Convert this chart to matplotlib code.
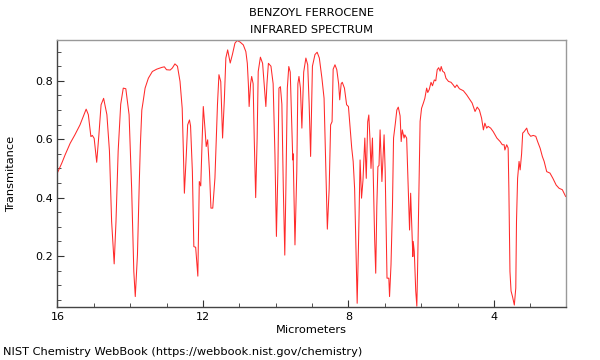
import matplotlib
matplotlib.use("Agg")
import matplotlib.pyplot as plt
from matplotlib.ticker import MultipleLocator

# wavelength (micrometers) and transmittance
wavelength = [
    16.00, 15.88, 15.79, 15.65, 15.52, 15.38, 15.29, 15.21, 15.15, 15.08,
    15.04, 14.99, 14.92, 14.86, 14.80, 14.73, 14.64, 14.57, 14.51, 14.44,
    14.39, 14.33, 14.26, 14.19, 14.12, 14.03, 13.96, 13.90, 13.86, 13.80,
    13.75, 13.72, 13.68, 13.65, 13.59, 13.50, 13.39, 13.27, 13.13, 13.06,
    13.00, 12.90, 12.84, 12.77, 12.70, 12.63, 12.57, 12.54, 12.51, 12.46,
    12.42, 12.37, 12.34, 12.29, 12.25, 12.20, 12.14, 12.10, 12.06, 12.02,
    11.99, 11.94, 11.91, 11.87, 11.82, 11.78, 11.73, 11.67, 11.60, 11.56,
    11.51, 11.46, 11.41, 11.37, 11.32, 11.25, 11.19, 11.12, 11.06, 10.98,
    10.89, 10.82, 10.78, 10.75, 10.73, 10.69, 10.66, 10.62, 10.59, 10.55,
    10.51, 10.48, 10.42, 10.36, 10.31, 10.27, 10.24, 10.20, 10.13, 10.07,
    10.02, 9.98, 9.94, 9.91, 9.87, 9.83, 9.79, 9.75, 9.72, 9.68,
    9.64, 9.60, 9.56, 9.53, 9.52, 9.47, 9.42, 9.39, 9.36, 9.32,
    9.28, 9.23, 9.17, 9.12, 9.08, 9.04, 8.99, 8.92, 8.86, 8.80,
    8.73, 8.67, 8.63, 8.58, 8.53, 8.49, 8.45, 8.42, 8.37, 8.32,
    8.27, 8.24, 8.20, 8.17, 8.11, 8.05, 8.00, 7.96, 7.91, 7.87,
    7.83, 7.79, 7.76, 7.72, 7.68, 7.64, 7.60, 7.55, 7.51, 7.47,
    7.44, 7.41, 7.38, 7.34, 7.32, 7.28, 7.25, 7.22, 7.19, 7.16,
    7.13, 7.10, 7.08, 7.04, 7.02, 6.99, 6.96, 6.94, 6.89, 6.87,
    6.83, 6.79, 6.76, 6.71, 6.67, 6.63, 6.58, 6.55, 6.52, 6.47,
    6.45, 6.40, 6.37, 6.34, 6.32, 6.29, 6.26, 6.23, 6.22, 6.19,
    6.15, 6.12, 6.10, 6.06, 6.03, 5.99, 5.94, 5.90, 5.85, 5.82,
    5.78, 5.73, 5.69, 5.64, 5.60, 5.56, 5.52, 5.48, 5.45, 5.41,
    5.36, 5.32, 5.25, 5.18, 5.12, 5.07, 5.02, 4.95, 4.84, 4.75,
    4.66, 4.60, 4.52, 4.46, 4.40, 4.34, 4.29, 4.25, 4.20, 4.16,
    4.09, 4.02, 3.92, 3.83, 3.77, 3.72, 3.70, 3.65, 3.61, 3.59,
    3.56, 3.53, 3.49, 3.44, 3.40, 3.38, 3.35, 3.31, 3.28, 3.24,
    3.21, 3.17, 3.10, 3.06, 2.99, 2.92, 2.85, 2.80, 2.73, 2.67,
    2.62, 2.55, 2.46, 2.38, 2.29, 2.21, 2.12, 2.03,
]
transmittance = [
    0.485, 0.518, 0.546, 0.586, 0.615, 0.649, 0.678, 0.703, 0.684, 0.609,
    0.613, 0.603, 0.521, 0.615, 0.718, 0.740, 0.684, 0.560, 0.318, 0.173,
    0.318, 0.560, 0.720, 0.775, 0.773, 0.684, 0.432, 0.147, 0.061, 0.204,
    0.450, 0.580, 0.700, 0.724, 0.775, 0.809, 0.832, 0.840, 0.846, 0.848,
    0.838, 0.837, 0.844, 0.858, 0.850, 0.798, 0.706, 0.569, 0.415, 0.540,
    0.649, 0.666, 0.645, 0.489, 0.232, 0.230, 0.131, 0.455, 0.440, 0.604,
    0.712, 0.630, 0.575, 0.598, 0.490, 0.364, 0.364, 0.467, 0.720, 0.821,
    0.797, 0.604, 0.740, 0.878, 0.906, 0.861, 0.890, 0.929, 0.938, 0.933,
    0.923, 0.900, 0.860, 0.786, 0.712, 0.790, 0.815, 0.790, 0.604, 0.400,
    0.604, 0.832, 0.881, 0.860, 0.780, 0.712, 0.790, 0.860, 0.850, 0.790,
    0.546, 0.267, 0.490, 0.775, 0.780, 0.720, 0.430, 0.203, 0.430, 0.775,
    0.849, 0.830, 0.660, 0.529, 0.550, 0.238, 0.490, 0.790, 0.815, 0.775,
    0.638, 0.830, 0.878, 0.855, 0.720, 0.541, 0.850, 0.890, 0.898, 0.878,
    0.810, 0.740, 0.546, 0.292, 0.430, 0.649, 0.660, 0.840, 0.855, 0.838,
    0.790, 0.735, 0.790, 0.795, 0.775, 0.718, 0.712, 0.649, 0.570, 0.524,
    0.430, 0.200, 0.038, 0.260, 0.529, 0.398, 0.460, 0.604, 0.466, 0.660,
    0.683, 0.604, 0.500, 0.604, 0.490, 0.260, 0.141, 0.370, 0.506, 0.510,
    0.632, 0.520, 0.455, 0.560, 0.615, 0.490, 0.260, 0.124, 0.124, 0.061,
    0.170, 0.370, 0.604, 0.655, 0.700, 0.710, 0.680, 0.592, 0.632, 0.604,
    0.615, 0.604, 0.489, 0.370, 0.289, 0.415, 0.310, 0.198, 0.250, 0.215,
    0.080, 0.028, 0.150, 0.430, 0.661, 0.706, 0.724, 0.740, 0.775, 0.760,
    0.770, 0.795, 0.783, 0.803, 0.800, 0.838, 0.845, 0.833, 0.849, 0.833,
    0.828, 0.809, 0.798, 0.795, 0.786, 0.777, 0.786, 0.773, 0.766, 0.752,
    0.735, 0.724, 0.695, 0.710, 0.700, 0.672, 0.632, 0.655, 0.638, 0.644,
    0.638, 0.626, 0.604, 0.592, 0.581, 0.581, 0.563, 0.581, 0.570, 0.430,
    0.147, 0.080, 0.061, 0.032, 0.090, 0.320, 0.466, 0.524, 0.495, 0.550,
    0.621, 0.626, 0.638, 0.621, 0.610, 0.613, 0.610, 0.592, 0.569, 0.541,
    0.524, 0.489, 0.484, 0.466, 0.443, 0.432, 0.427, 0.404,
]

x_ticks = [16, 12, 8, 4]
y_ticks = [0.2, 0.4, 0.6, 0.8]
title_lines = ["BENZOYL FERROCENE", "INFRARED SPECTRUM"]

plt.rcParams['font.family'] = 'DejaVu Sans'
plt.rcParams['font.size'] = 8

fig = plt.figure(figsize=(6, 3.6), dpi=100)
ax = fig.add_axes([0.0957, 0.147, 0.8476, 0.742])

ax.plot(wavelength, transmittance, color='#ff2a2a', linewidth=0.75)

ax.set_xlim(16, 2.02)
ax.set_ylim(0.025, 0.94)
ax.set_xticks(x_ticks)
ax.set_yticks(y_ticks)
ax.set_xticklabels([str(t) for t in x_ticks])
ax.set_yticklabels([f"{t:.1f}" for t in y_ticks])
ax.xaxis.set_minor_locator(MultipleLocator(1))
ax.yaxis.set_minor_locator(MultipleLocator(0.05))
ax.tick_params(which='both', direction='in', labelsize=8, color='#333333')
ax.tick_params(which='major', length=5, width=0.8)
ax.tick_params(which='minor', length=3, width=0.6)

for side in ['top', 'right']:
    ax.spines[side].set_color('#999999')
for side in ['left', 'bottom']:
    ax.spines[side].set_color('#444444')
for s in ax.spines.values():
    s.set_linewidth(1.0)

ax.set_xlabel("Micrometers", fontsize=8.2, labelpad=2)
ax.set_ylabel("Transmitance", fontsize=8.2)
ax.yaxis.set_label_coords(-0.081, 0.5)

cx = 0.0957 + 0.8476 / 2
fig.text(cx, 1 - 13 / 360, title_lines[0], fontsize=8.2, ha='center', va='center')
fig.text(cx, 1 - 30 / 360, title_lines[1], fontsize=8.2, ha='center', va='center')

fig.text(0.005, 1 - 352 / 360, "NIST Chemistry WebBook (https://webbook.nist.gov/chemistry)",
         fontsize=8.2, ha='left', va='center')

fig.savefig("out.png", dpi=100)
